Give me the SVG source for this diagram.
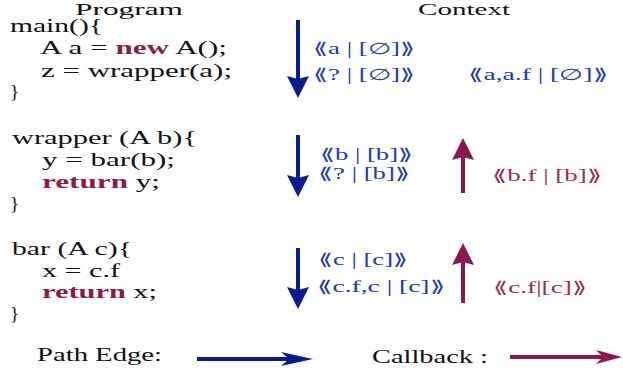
<svg xmlns="http://www.w3.org/2000/svg" width="623" height="373" viewBox="0 0 623 373">
  <style>
    .code { font-family: "Liberation Serif", "DejaVu Serif", serif; font-size: 19px; fill: #111; }
    .head { font-family: "Liberation Serif", "DejaVu Serif", serif; font-size: 16.5px; fill: #111; }
    .kw { font-weight: bold; fill: #8b1a4b; }
    .ctx { font-family: "Liberation Serif", "DejaVu Serif", serif; font-size: 16px; }
    .blue { fill: #2238b0; }
    .plum { fill: #9a2a5c; }
    .edge-blue { stroke: #0a1a8f; stroke-width: 4; fill: none; }
    .edge-plum { stroke: #8c1650; stroke-width: 4; fill: none; }
  </style>
  <defs>
    <marker id="headBlue" viewBox="0 0 22 22" refX="6" refY="11" markerWidth="22" markerHeight="22" markerUnits="userSpaceOnUse" orient="auto">
      <path d="M0,0 L22,11 L0,22 L3,11 z" fill="#0a1a8f"/>
    </marker>
    <marker id="headPlum" viewBox="0 0 22 22" refX="6" refY="11" markerWidth="22" markerHeight="22" markerUnits="userSpaceOnUse" orient="auto">
      <path d="M0,0 L22,11 L0,22 L3,11 z" fill="#8c1650"/>
    </marker>
    <marker id="legendBlue" viewBox="0 0 32 16" refX="8" refY="8" markerWidth="32" markerHeight="16" markerUnits="userSpaceOnUse" orient="auto">
      <path d="M0,1 L32,8 L0,15 L8,8 z" fill="#0a1a8f"/>
    </marker>
    <marker id="legendPlum" viewBox="0 0 26 16" refX="7" refY="8" markerWidth="26" markerHeight="16" markerUnits="userSpaceOnUse" orient="auto">
      <path d="M0,1 L26,8 L0,15 L7,8 z" fill="#8c1650"/>
    </marker>
  </defs>

  <!-- column headings -->
  <g id="headings">
    <text class="head" x="75" y="15" textLength="108" lengthAdjust="spacingAndGlyphs">Program</text>
    <text class="head" x="418" y="15" textLength="92" lengthAdjust="spacingAndGlyphs">Context</text>
  </g>

  <!-- method main -->
  <g id="main">
    <text class="code" x="10" y="32" textLength="93" lengthAdjust="spacingAndGlyphs">main(){</text>
    <text class="code" x="40" y="54" textLength="187" lengthAdjust="spacingAndGlyphs">A a = <tspan class="kw">new</tspan> A();</text>
    <text class="code" x="41" y="77" textLength="191" lengthAdjust="spacingAndGlyphs">z = wrapper(a);</text>
    <text class="code" x="10" y="98">}</text>
  </g>

  <!-- method wrapper -->
  <g id="wrapper">
    <text class="code" x="12" y="144" textLength="185" lengthAdjust="spacingAndGlyphs">wrapper (A b){</text>
    <text class="code" x="42" y="166" textLength="133" lengthAdjust="spacingAndGlyphs">y = bar(b);</text>
    <text class="code" x="42" y="188" textLength="118" lengthAdjust="spacingAndGlyphs"><tspan class="kw">return</tspan> y;</text>
    <text class="code" x="10" y="210">}</text>
  </g>

  <!-- method bar -->
  <g id="bar">
    <text class="code" x="12" y="255" textLength="120" lengthAdjust="spacingAndGlyphs">bar (A c){</text>
    <text class="code" x="42" y="277" textLength="78" lengthAdjust="spacingAndGlyphs">x = c.f</text>
    <text class="code" x="42" y="298" textLength="115" lengthAdjust="spacingAndGlyphs"><tspan class="kw">return</tspan> x;</text>
    <text class="code" x="10" y="320">}</text>
  </g>

  <!-- context facts -->
  <g id="ctx-main">
    <text class="ctx blue" x="313" y="54" textLength="102" lengthAdjust="spacingAndGlyphs">⟪a | [∅]⟫</text>
    <text class="ctx blue" x="313" y="80" textLength="102" lengthAdjust="spacingAndGlyphs">⟪? | [∅]⟫</text>
    <text class="ctx blue" x="468" y="80" textLength="140" lengthAdjust="spacingAndGlyphs">⟪a,a.f | [∅]⟫</text>
  </g>
  <g id="ctx-wrapper">
    <text class="ctx blue" x="320" y="160" textLength="93" lengthAdjust="spacingAndGlyphs">⟪b | [b]⟫</text>
    <text class="ctx blue" x="318" y="179" textLength="92" lengthAdjust="spacingAndGlyphs">⟪? | [b]⟫</text>
    <text class="ctx plum" x="492" y="181" textLength="110" lengthAdjust="spacingAndGlyphs">⟪b.f | [b]⟫</text>
  </g>
  <g id="ctx-bar">
    <text class="ctx blue" x="318" y="265" textLength="90" lengthAdjust="spacingAndGlyphs">⟪c | [c]⟫</text>
    <text class="ctx blue" x="317" y="292" textLength="128" lengthAdjust="spacingAndGlyphs">⟪c.f,c | [c]⟫</text>
    <text class="ctx plum" x="493" y="293" textLength="94" lengthAdjust="spacingAndGlyphs">⟪c.f|[c]⟫</text>
  </g>

  <!-- legend labels -->
  <g id="legend">
    <text class="code" x="37" y="361" textLength="125" lengthAdjust="spacingAndGlyphs">Path Edge:</text>
    <text class="code" x="372" y="363" textLength="116" lengthAdjust="spacingAndGlyphs">Callback :</text>
  </g>

  <!-- path edges (down) and callbacks (up) -->
  <g id="connectors">
    <line class="edge-blue" x1="298" y1="20" x2="298" y2="82" marker-end="url(#headBlue)"/>
    <line class="edge-blue" x1="298" y1="135" x2="298" y2="181" marker-end="url(#headBlue)"/>
    <line class="edge-blue" x1="298" y1="248" x2="298" y2="293" marker-end="url(#headBlue)"/>
    <line class="edge-plum" x1="463" y1="193" x2="463" y2="154" marker-end="url(#headPlum)"/>
    <line class="edge-plum" x1="463" y1="303" x2="463" y2="259" marker-end="url(#headPlum)"/>
    <line class="edge-blue" x1="197" y1="359" x2="289" y2="359" marker-end="url(#legendBlue)"/>
    <line class="edge-plum" x1="510" y1="357" x2="603" y2="357" marker-end="url(#legendPlum)"/>
  </g>
</svg>
